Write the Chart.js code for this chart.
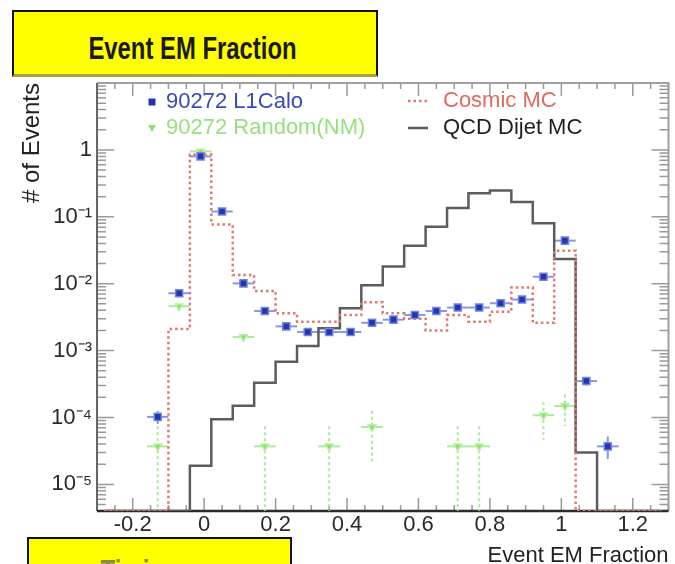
<!DOCTYPE html>
<html>
<head>
<meta charset="utf-8">
<title>Event EM Fraction</title>
<script src="https://cdn.jsdelivr.net/npm/chart.js@4.4.1/dist/chart.umd.min.js"></script>
<style>
  html, body { margin: 0; padding: 0; background: #fff; }
  #page { position: relative; width: 675px; height: 564px; overflow: hidden; }
  #myChart { position: absolute; left: 0; top: 0; }
  .box {
    position: absolute; box-sizing: border-box; background: #ffff00; overflow: hidden;
    font-family: "Liberation Sans", Arial, sans-serif; font-weight: bold; color: #1a1a1a;
  }
  .box span {
    position: absolute; display: block; font-size: 31px; line-height: 1;
    white-space: nowrap; transform-origin: center; transform: scaleX(0.77);
  }
  #titleBox { left: 12px; top: 10px; width: 366px; height: 67px;
    border: 2px solid #111; border-bottom: 3px solid #a9a33c; }
  #titleBox span { left: 0; width: 357px; top: 21px; text-align: center; }
  #nextBox { left: 27px; top: 537px; width: 265px; height: 40px; border: 2px solid #111; }
  #nextBox span { left: 60px; top: 17px; color: #8a8a40; }
</style>
</head>
<body>
<div id="page">
  <canvas id="myChart" width="675" height="564"></canvas>
  <div class="box" id="titleBox"><span>Event EM Fraction</span></div>
  <div class="box" id="nextBox"><span>Timing</span></div>
</div>
<script>
// histogram binning (bin width 0.06)
const binEdges = [-0.28, -0.22, -0.16, -0.10, -0.04, 0.02, 0.08, 0.14, 0.20, 0.26, 0.32, 0.38, 0.44,
  0.50, 0.56, 0.62, 0.68, 0.74, 0.80, 0.86, 0.92, 0.98, 1.04, 1.10, 1.16, 1.22, 1.28];
const binCenters = [-0.25, -0.19, -0.13, -0.07, -0.01, 0.05, 0.11, 0.17, 0.23, 0.29, 0.35, 0.41, 0.47,
  0.53, 0.59, 0.65, 0.71, 0.77, 0.83, 0.89, 0.95, 1.01, 1.07, 1.13, 1.19, 1.25];

// MC histograms (0 = empty bin)
const cosmicMC = [0, 0, 0, 0.0021, 0.85, 0.077, 0.0135, 0.0078, 0.0036, 0.0027, 0.0027, 0.0034, 0.0053,
  0.0036, 0.0030, 0.0020, 0.0034, 0.0027, 0.0038, 0.0088, 0.0026, 0.031, 0, 0, 0, 0];
const qcdDijetMC = [0, 0, 0, 0, 1.9e-5, 9.4e-5, 1.5e-4, 3.3e-4, 6.8e-4, 1.17e-3, 2.15e-3, 4.3e-3, 9.5e-3,
  0.018, 0.037, 0.071, 0.135, 0.225, 0.247, 0.166, 0.080, 0.0234, 3.0e-5, 0, 0, 0];

// data points (null = no entry)
const l1calo = [null, null, 1.02e-4, 0.0072, 0.80, 0.12, 0.0101, 0.0039, 0.0023, 0.0019, 0.0019, 0.0019, 0.0026,
  0.0029, 0.0034, 0.0039, 0.0044, 0.0044, 0.0051, 0.0058, 0.0127, 0.044, 3.5e-4, 3.7e-5, null, null];
const l1caloLow = [null, null, 8.0e-5, null, null, null, null, null, null, null, null, null, null,
  null, null, null, null, null, null, null, null, null, 3.0e-4, 2.4e-5, null, null];
const l1caloHigh = [null, null, 1.25e-4, null, null, null, null, null, null, null, null, null, null,
  null, null, null, null, null, null, null, null, null, 4.0e-4, 5.2e-5, null, null];

const randomNM = [null, null, 3.7e-5, 0.0046, 0.95, null, 0.0016, 3.7e-5, null, null, 3.7e-5, null, 7.2e-5,
  null, null, null, 3.7e-5, 3.7e-5, null, null, 1.08e-4, 1.48e-4, null, null, null, null];
const randomLow = [null, null, 0, null, null, null, null, 0, null, null, 0, null, 2.2e-5,
  null, null, null, 0, 0, null, null, 4.6e-5, 7.4e-5, null, null, null, null];
const randomHigh = [null, null, 7.4e-5, null, null, null, null, 7.4e-5, null, null, 7.4e-5, null, 1.26e-4,
  null, null, null, 7.4e-5, 7.4e-5, null, null, 1.7e-4, 2.2e-4, null, null, null, null];

const xTickValues = [-0.2, 0, 0.2, 0.4, 0.6, 0.8, 1, 1.2];
const xTickLabels = ['-0.2', '0', '0.2', '0.4', '0.6', '0.8', '1', '1.2'];
const yTickValues = [1e-5, 1e-4, 1e-3, 1e-2, 1e-1, 1];
const yTickLabels = ['10⁻⁵', '10⁻⁴', '10⁻³', '10⁻²', '10⁻¹', '1'];

const xMin = -0.3, xMax = 1.3;
const yMin = 4e-6, yMax = 10;
const fontFamily = '"Liberation Sans", Arial, Helvetica, sans-serif';
const binHalf = (binEdges[1] - binEdges[0]) / 2;

function stepPoints(vals) {
  const pts = vals.map((v, i) => ({x: binEdges[i], y: v > 0 ? v : yMin}));
  pts.push({x: binEdges[binEdges.length - 1], y: yMin});
  return pts;
}
function markerPoints(vals) {
  return vals.map((v, i) => ({x: binCenters[i], y: v}));
}

// ROOT style frame with inward ticks on all four sides
const rootFrame = {
  id: 'rootFrame',
  beforeDatasetsDraw(chart) {
    const {ctx, chartArea: a, scales: {x, y}} = chart;
    ctx.save();
    ctx.strokeStyle = '#9a9a9a';
    ctx.lineWidth = 1.5;
    ctx.beginPath();
    for (let k = -6; k <= 26; k++) {
      const v = k * 0.05;
      const px = x.getPixelForValue(v);
      const len = k % 4 === 0 ? 13 : 6;
      ctx.moveTo(px, a.bottom); ctx.lineTo(px, a.bottom - len);
      ctx.moveTo(px, a.top); ctx.lineTo(px, a.top + len);
    }
    for (let e = -6; e <= 1; e++) {
      for (let m = 1; m <= 9; m++) {
        const v = m * Math.pow(10, e);
        if (v < yMin || v > yMax) continue;
        const py = y.getPixelForValue(v);
        const len = m === 1 ? 17 : 9;
        ctx.moveTo(a.left, py); ctx.lineTo(a.left + len, py);
        ctx.moveTo(a.right, py); ctx.lineTo(a.right - len, py);
      }
    }
    ctx.stroke();

    ctx.lineWidth = 2;
    ctx.strokeStyle = '#a0a0a0';
    ctx.beginPath();
    ctx.moveTo(a.left, a.top); ctx.lineTo(a.right, a.top); ctx.lineTo(a.right, a.bottom);
    ctx.stroke();
    ctx.strokeStyle = '#666';
    ctx.beginPath();
    ctx.moveTo(a.left, a.top); ctx.lineTo(a.left, a.bottom);
    ctx.stroke();
    ctx.strokeStyle = '#2b2b2b';
    ctx.lineWidth = 2.5;
    ctx.beginPath();
    ctx.moveTo(a.left, a.bottom); ctx.lineTo(a.right, a.bottom);
    ctx.stroke();
    ctx.restore();
  }
};

// horizontal bin-width bars and vertical error bars for the data points
const errorBars = {
  id: 'errorBars',
  beforeDatasetsDraw(chart) {
    const {ctx, chartArea: a, scales: {x, y}} = chart;
    chart.data.datasets.forEach(ds => {
      if (!ds.errLow) return;
      ctx.save();
      ctx.strokeStyle = ds.errColor;
      ctx.lineWidth = 2;
      ds.data.forEach((p, j) => {
        if (p.y == null) return;
        const px = x.getPixelForValue(p.x);
        const py = y.getPixelForValue(p.y);
        ctx.setLineDash([]);
        ctx.beginPath();
        ctx.moveTo(x.getPixelForValue(p.x - binHalf), py);
        ctx.lineTo(x.getPixelForValue(p.x + binHalf), py);
        ctx.stroke();
        if (ds.errLow[j] == null) return;
        const lo = ds.errLow[j] > yMin ? y.getPixelForValue(ds.errLow[j]) : a.bottom;
        const hi = y.getPixelForValue(ds.errHigh[j]);
        ctx.setLineDash(ds.errDash);
        ctx.beginPath();
        ctx.moveTo(px, hi); ctx.lineTo(px, lo);
        ctx.stroke();
      });
      ctx.restore();
    });
  }
};

// two column legend inside the frame, like the ROOT TLegend
const legendSlots = [
  {x: 152, y: 102, tx: 166},
  {x: 152, y: 128, tx: 166},
  {x: 418, y: 101, tx: 443},
  {x: 418, y: 128, tx: 443}
];
const rootLegend = {
  id: 'rootLegend',
  afterDraw(chart) {
    const {ctx} = chart;
    ctx.save();
    ctx.font = '22px ' + fontFamily;
    ctx.textBaseline = 'middle';
    chart.data.datasets.forEach((ds, i) => {
      const s = legendSlots[i];
      if (ds.showLine === false) {
        ctx.fillStyle = ds.backgroundColor;
        ctx.beginPath();
        if (ds.pointStyle === 'rect') {
          ctx.rect(s.x - 3.5, s.y - 3.5, 7, 7);
        } else {
          ctx.moveTo(s.x - 4, s.y - 3); ctx.lineTo(s.x + 4, s.y - 3); ctx.lineTo(s.x, s.y + 4);
          ctx.closePath();
        }
        ctx.fill();
      } else {
        ctx.strokeStyle = ds.borderColor;
        ctx.lineWidth = ds.borderWidth;
        ctx.setLineDash(ds.borderDash || []);
        ctx.beginPath();
        ctx.moveTo(s.x - 10, s.y); ctx.lineTo(s.x + 10, s.y);
        ctx.stroke();
        ctx.setLineDash([]);
      }
      ctx.fillStyle = ds.textColor;
      ctx.fillText(ds.label, s.tx, s.y);
    });
    ctx.restore();
  }
};

Chart.defaults.font.family = fontFamily;

const ctx = document.getElementById('myChart');
new Chart(ctx, {
  type: 'line',
  data: {
    datasets: [
      {
        label: '90272 L1Calo',
        data: markerPoints(l1calo),
        showLine: false,
        pointStyle: 'rect',
        pointRadius: 5,
        backgroundColor: '#2536a8',
        borderColor: '#7383e2',
        borderWidth: 1.5,
        textColor: '#3a4ab8',
        errLow: l1caloLow,
        errHigh: l1caloHigh,
        errColor: '#8796ea',
        errDash: [],
        order: 1
      },
      {
        label: '90272 Random(NM)',
        data: markerPoints(randomNM),
        showLine: false,
        pointStyle: 'triangle',
        rotation: 180,
        pointRadius: 4.5,
        backgroundColor: '#8ede76',
        borderColor: '#b9f0a8',
        borderWidth: 1.5,
        textColor: '#96e07e',
        errLow: randomLow,
        errHigh: randomHigh,
        errColor: '#ade99a',
        errDash: [3, 3],
        order: 2
      },
      {
        label: 'Cosmic MC',
        data: stepPoints(cosmicMC),
        stepped: 'before',
        borderColor: '#dc7a72',
        borderWidth: 2.5,
        borderDash: [2.5, 3],
        pointRadius: 0,
        fill: false,
        textColor: '#e06a5e',
        order: 3
      },
      {
        label: 'QCD Dijet MC',
        data: stepPoints(qcdDijetMC),
        stepped: 'before',
        borderColor: '#5c5c5c',
        borderWidth: 2.5,
        pointRadius: 0,
        fill: false,
        textColor: '#1e1e1e',
        order: 4
      }
    ]
  },
  options: {
    responsive: false,
    animation: false,
    events: [],
    layout: {padding: {top: 83, right: 2, left: 0, bottom: 0}},
    plugins: {
      legend: {display: false},
      tooltip: {enabled: false}
    },
    scales: {
      x: {
        type: 'linear',
        min: xMin,
        max: xMax,
        bounds: 'data',
        grid: {display: false, drawTicks: false},
        border: {display: false},
        afterBuildTicks: s => { s.ticks = xTickValues.map(v => ({value: v})); },
        afterFit: s => { s.height = 53; },
        ticks: {
          autoSkip: false,
          maxRotation: 0,
          padding: 1,
          color: '#2a2a2a',
          font: {size: 22},
          callback: (v, i) => xTickLabels[i]
        },
        title: {
          display: true,
          text: 'Event EM Fraction',
          align: 'end',
          color: '#222',
          font: {size: 22, lineHeight: 0.73},
          padding: 0
        }
      },
      y: {
        type: 'logarithmic',
        min: yMin,
        max: yMax,
        bounds: 'data',
        grid: {display: false, drawTicks: false},
        border: {display: false},
        afterBuildTicks: s => { s.ticks = yTickValues.map(v => ({value: v})); },
        afterFit: s => { s.width = 97; },
        ticks: {
          autoSkip: false,
          padding: 5,
          color: '#2a2a2a',
          font: {size: 22},
          callback: (v, i) => yTickLabels[i]
        },
        title: {
          display: true,
          text: '# of Events',
          align: 'end',
          color: '#222',
          font: {size: 24, lineHeight: 1.2},
          padding: {top: 18, bottom: 0}
        }
      }
    }
  },
  plugins: [rootFrame, errorBars, rootLegend]
});
</script>
</body>
</html>
